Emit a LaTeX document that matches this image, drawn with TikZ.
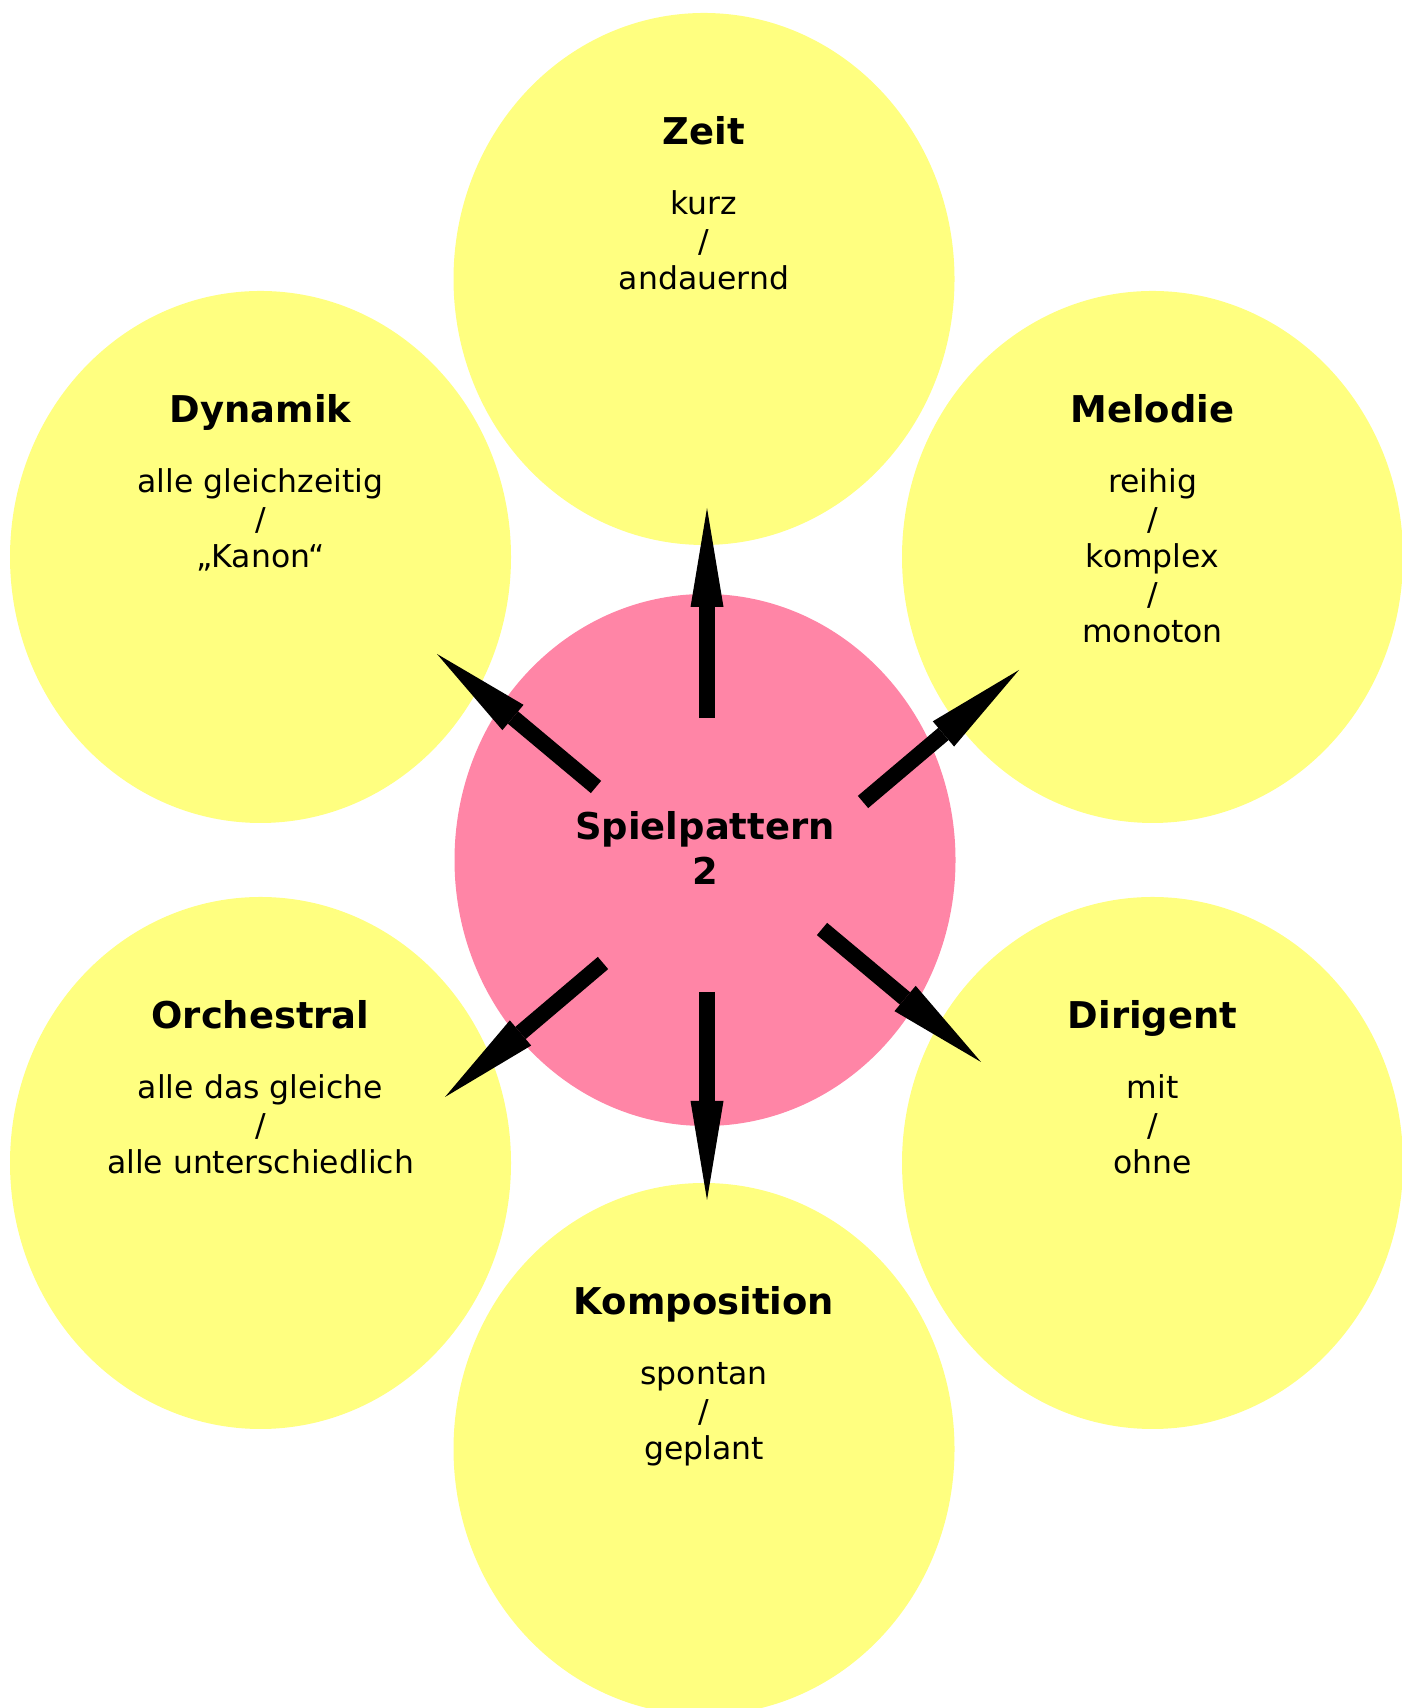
\documentclass[tikz,border=0pt]{standalone}
\usepackage{fontspec}
\setmainfont{DejaVu Sans}
\usetikzlibrary{shapes.geometric,arrows.meta,calc}
\definecolor{gelb}{RGB}{255,255,128}
\definecolor{rosa}{RGB}{255,133,166}

\begin{document}
\begin{tikzpicture}[
  bubble/.style={ellipse,fill=gelb,minimum width=10.02cm,minimum height=10.64cm,inner sep=0pt},
  kern/.style={bubble,fill=rosa},
  titel/.style={font=\fontsize{21}{25.6}\selectfont\bfseries,anchor=base,inner sep=0pt},
  zeile/.style={font=\fontsize{17.9}{21.3}\selectfont,anchor=base,inner sep=0pt},
  pfeil/.style={line width=0.32cm,-{Triangle[length=1.98cm,width=0.66cm,line width=0pt]}}]
\clip (0,0) rectangle (28.04,34.16);
% Blasen
\foreach \n/\x/\y in {zeit/14.08/28.58,dyn/5.21/23.02,mel/23.05/23.02,orch/5.21/10.90,dir/23.05/10.90,komp/14.08/5.18}{\node[bubble] (\n) at (\x,\y) {};}
\node[kern] (sp) at (14.10,16.96) {};
% Texte
\foreach \n/\t/\z in {zeit/Zeit/{kurz,/,andauernd},dyn/Dynamik/{alle gleichzeitig,/,„Kanon“},mel/Melodie/{reihig,/,komplex,/,monoton},orch/Orchestral/{alle das gleiche,/,alle unterschiedlich},dir/Dirigent/{mit,/,ohne},komp/Komposition/{spontan,/,geplant}}{
  \node[titel] (\n-t) at ($(\n)+(0,2.68)$) {\t};
  \foreach \l [count=\i] in \z {\node[zeile] (\n-\i) at ($(\n)+(0,2.03-0.75*\i)$) {\l};}
}
\node[titel] (sp-1) at ($(sp)+(0,0.40)$) {Spielpattern};
\node[titel] (sp-2) at ($(sp)+(0,-0.50)$) {2};
% Pfeile
\foreach \n/\xa/\ya/\xe/\ye in {zeit/14.14/19.80/14.14/24.00,dyn/11.92/18.42/8.74/21.08,mel/17.26/18.12/20.38/20.76,dir/16.44/15.58/19.62/12.92,orch/12.06/14.90/8.90/12.22,komp/14.14/14.32/14.14/10.16}{
  \coordinate (\n-a) at (\xa,\ya); \coordinate (\n-e) at (\xe,\ye);
  \draw[pfeil] (\n-a) -- (\n-e);
}
\end{tikzpicture}
\end{document}
